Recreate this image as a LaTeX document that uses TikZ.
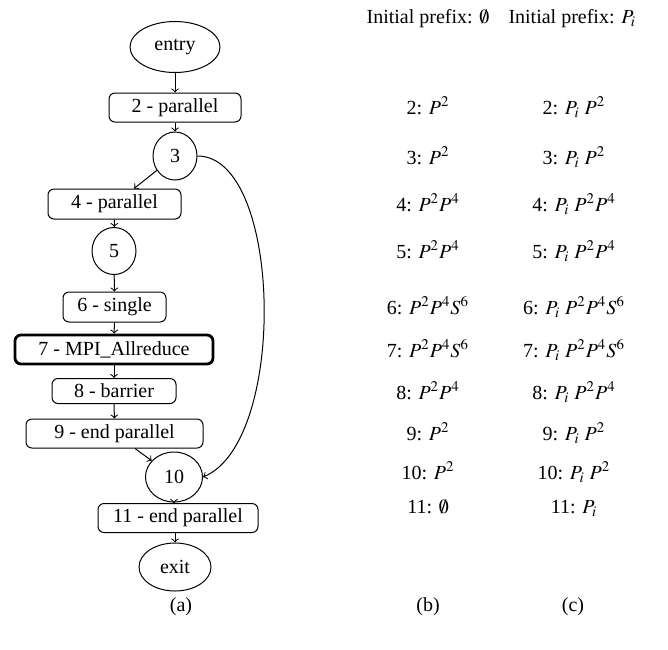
\documentclass[tikz,border=0pt]{standalone}
\usepackage{amsmath}
\usepackage{mathptmx}
\usepackage[no-math]{fontspec}
\setmainfont{Liberation Serif}
\usetikzlibrary{shapes.geometric}

\begin{document}
\begin{tikzpicture}[x=0.5pt,y=-0.5pt,line width=0.5pt,
		box/.style={draw,rounded corners=3pt,minimum height=14.5pt,inner xsep=2pt,inner ysep=0pt},
		blob/.style={draw,ellipse,inner sep=0pt,minimum width=22pt,minimum height=24pt},
		txt/.style={anchor=base,inner sep=0pt}]
		\useasboundingbox (0,0) rectangle (668,649);
		% (a) control flow graph
		\node[blob,minimum width=45pt,minimum height=25.5pt] (entry) at (175,47) {entry};
		\node[box,minimum width=66pt] (n2) at (175,107.5) {2 - parallel};
		\node[blob] (n3) at (175,156) {3};
		\node[box,minimum width=66.5pt,minimum height=15pt] (n4) at (114.5,204) {4 - parallel};
		\node[blob,minimum height=23.5pt] (n5) at (114,251) {5};
		\node[box,minimum width=51.5pt,minimum height=15pt] (n6) at (114.5,307) {6 - single};
		\node[box,minimum width=99pt,line width=1.4pt] (n7) at (114,349.5) {7 - MPI\_Allreduce};
		\node[box,minimum width=62pt,minimum height=12.5pt] (n8) at (114,391) {8 - barrier};
		\node[box,minimum width=88.5pt] (n9) at (114.5,433.5) {9 - end parallel};
		\node[blob,minimum width=28.5pt,minimum height=25pt] (n10) at (174,477) {10};
		\node[box,minimum width=80pt] (n11) at (178,518) {11 - end parallel};
		\node[blob,minimum width=36pt,minimum height=24pt] (exit) at (175,567) {exit};
		\draw[->] (entry) -- (n2);
		\draw[->] (n2) -- (n3);
		\draw[->] (n3) -- (n4);
		\draw[->] (n4) -- (n5);
		\draw[->] (n5) -- (n6);
		\draw[->] (n6) -- (n7);
		\draw[->] (n7) -- (n8);
		\draw[->] (n8) -- (n9);
		\draw[->] (n9) -- (n10);
		\draw[->] (n10.south) -- (n10.south |- n11.north);
		\draw[->] (n11.south -| exit.north) -- (exit);
		\draw[->] (n3.east) .. controls +(85,0) and +(85,-35) .. (n10.east);
		% (b) initial prefix empty
		\node[txt] (hb) at (428,23) {Initial prefix: $\emptyset$};
		\node[txt] (b2) at (428,114) {2: $P^2$};
		\node[txt] (b3) at (428,164) {3: $P^2$};
		\node[txt] (b4) at (428,211) {4: $P^2P^4$};
		\node[txt] (b5) at (428,258) {5: $P^2P^4$};
		\node[txt] (b6) at (428,314) {6: $P^2P^4S^6$};
		\node[txt] (b7) at (428,357) {7: $P^2P^4S^6$};
		\node[txt] (b8) at (428,399) {8: $P^2P^4$};
		\node[txt] (b9) at (428,440) {9: $P^2$};
		\node[txt] (b10) at (428,479) {10: $P^2$};
		\node[txt] (b11) at (428,513) {11: $\emptyset$};
		% (c) initial prefix P_i
		\node[txt,anchor=base west] (hc) at (508,23) {Initial prefix: $P_i$};
		\node[txt] (c2) at (574,114) {2: $P_i$ $P^2$};
		\node[txt] (c3) at (574,164) {3: $P_i$ $P^2$};
		\node[txt] (c4) at (574,211) {4: $P_i$ $P^2P^4$};
		\node[txt] (c5) at (574,258) {5: $P_i$ $P^2P^4$};
		\node[txt] (c6) at (574,314) {6: $P_i$ $P^2P^4S^6$};
		\node[txt] (c7) at (574,357) {7: $P_i$ $P^2P^4S^6$};
		\node[txt] (c8) at (574,399) {8: $P_i$ $P^2P^4$};
		\node[txt] (c9) at (574,440) {9: $P_i$ $P^2$};
		\node[txt] (c10) at (574,479) {10: $P_i$ $P^2$};
		\node[txt] (c11) at (574,513) {11: $P_i$};
		% captions
		\node (capa) at (181,607) {(a)};
		\node (capb) at (428,607) {(b)};
		\node (capc) at (573,607) {(c)};
	\end{tikzpicture}
\end{document}
